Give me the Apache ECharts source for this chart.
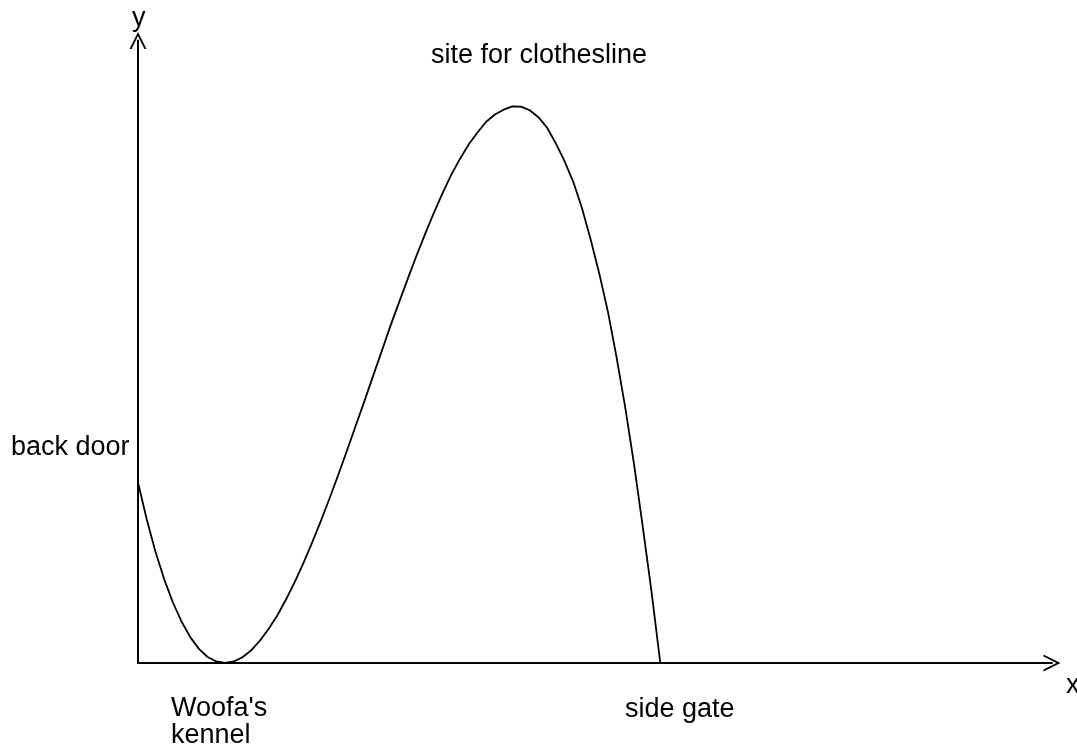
<!DOCTYPE html>
<html>
<head>
<meta charset="utf-8">
<script src="https://cdn.jsdelivr.net/npm/echarts@6/dist/echarts.min.js"></script>
<style>
  html, body { margin: 0; padding: 0; background: #fff; }
  #main { width: 1077px; height: 750px; }
</style>
</head>
<body>
<div id="main"></div>
<script>
// points (x along the yard, y height of the path)
var xs = [0, 0.1, 0.2, 0.3, 0.4, 0.5, 0.6, 0.7, 0.8, 0.9,
	1, 1.1, 1.2, 1.3, 1.4, 1.5, 1.6, 1.7, 1.8, 1.9,
	2, 2.1, 2.2, 2.3, 2.4, 2.5, 2.6, 2.7, 2.8, 2.9,
	3, 3.1, 3.2, 3.3, 3.4, 3.5, 3.6, 3.7, 3.8, 3.9,
	4, 4.1, 4.2, 4.3, 4.4, 4.5, 4.6, 4.7, 4.8, 4.9,
	5, 5.1, 5.2, 5.3, 5.4, 5.5, 5.6, 5.7, 5.8, 5.9, 6];
var ys = [6.00, 4.78, 3.71, 2.79, 2.02, 1.38, 0.86, 0.47, 0.20, 0.05,
	0, 0.05, 0.19, 0.42, 0.74, 1.13, 1.58, 2.11, 2.69, 3.32,
	4.00, 4.72, 5.47, 6.25, 7.06, 7.88, 8.70, 9.54, 10.37, 11.21,
	12.00, 12.78, 13.55, 14.28, 14.98, 15.63, 16.24, 16.77, 17.25, 17.64,
	18.00, 18.24, 18.40, 18.51, 18.50, 18.38, 18.15, 17.80, 17.28, 16.69,
	16.00, 15.13, 14.08, 12.94, 11.66, 10.13, 8.45, 6.58, 4.50, 2.36, 0];

var xMax = 10.5;
var yMax = 20.7;

// open "V" arrow head for the axis ends
var chevron = 'path://M0,100 L50,0 L100,100 L88,100 L50,24 L12,100 Z';

var points = xs.map(function (x, i) { return [x, ys[i]]; });

var font = '"Liberation Sans", Arial, sans-serif';
function label(text, left, top) {
	return {
		type: 'text',
		left: left,
		top: top,
		style: {
			text: text,
			fill: '#000',
			font: '27px ' + font,
			lineHeight: 27
		}
	};
}

var myChart = echarts.init(document.getElementById('main'));
var option = {
	animation: false,
	backgroundColor: '#fff',
	grid: {
		left: 138,
		right: 25,
		top: 40.5,
		bottom: 87,
		outerBoundsMode: 'none'
	},
	xAxis: {
		type: 'value',
		min: 0,
		max: xMax,
		axisLine: {
			show: true,
			symbol: ['none', chevron],
			symbolSize: [17, 17],
			lineStyle: { color: '#000', width: 2 }
		},
		axisTick: { show: false },
		axisLabel: { show: false },
		splitLine: { show: false }
	},
	yAxis: {
		type: 'value',
		min: 0,
		max: yMax,
		axisLine: {
			show: true,
			symbol: ['none', chevron],
			symbolSize: [17, 17],
			lineStyle: { color: '#000', width: 2 }
		},
		axisTick: { show: false },
		axisLabel: { show: false },
		splitLine: { show: false }
	},
	series: [
		{
			type: 'line',
			data: points,
			smooth: false,
			showSymbol: false,
			lineStyle: { color: '#000', width: 1.8, join: 'round' }
		}
	],
	graphic: [
		label('y', 132, 5),
		label('x', 1066, 672),
		label('back door', 11, 434),
		label('site for clothesline', 431, 42),
		label("Woofa's\nkennel", 171, 695),
		label('side gate', 625, 696)
	]
};
myChart.setOption(option);
</script>
</body>
</html>
